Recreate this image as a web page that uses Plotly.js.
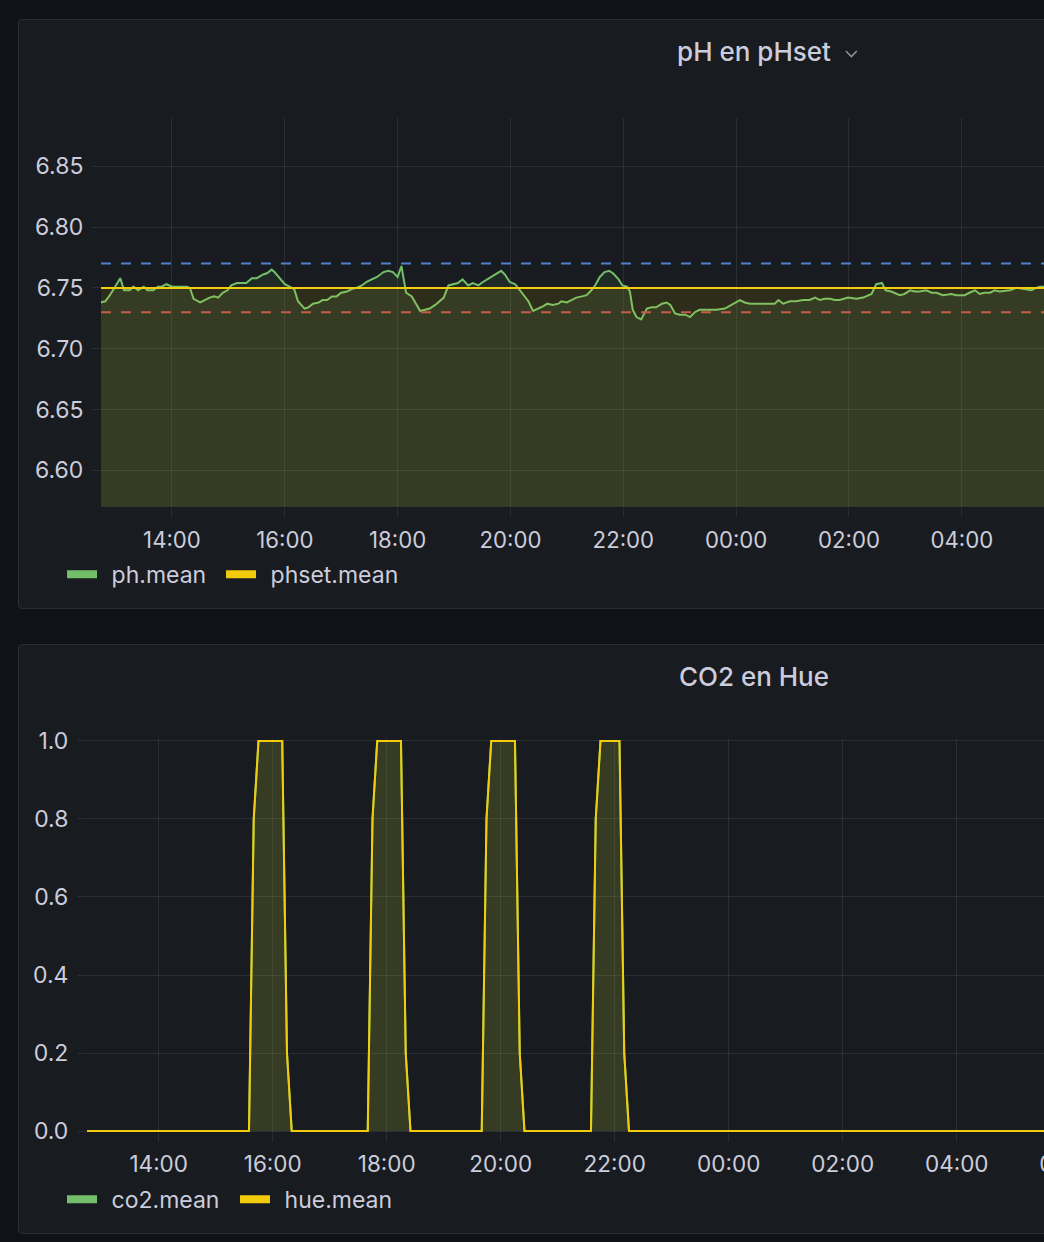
<!DOCTYPE html>
<html>
<head>
<meta charset="utf-8">
<script src="https://cdn.plot.ly/plotly-3.0.1.min.js"></script>
<style>
  html, body { margin:0; padding:0; background:#111217; width:1044px; height:1242px; overflow:hidden; }
  .panel { position:absolute; left:18px; width:1472px; height:590px; box-sizing:border-box;
           background:#181b1f; border:1px solid #2b2e34; border-radius:4px; }
  .plot { position:absolute; left:18px; width:1472px; height:590px; }
</style>
</head>
<body>
<div class="panel" style="top:19px"></div>
<div class="panel" style="top:644px"></div>
<div id="ph" class="plot" style="top:19px"></div>
<div id="co2" class="plot" style="top:644px"></div>
<script>
// ---- data ----
const day1 = '2023-05-10', day2 = '2023-05-11';
const rangeStart = '2023-05-10 12:44:30', rangeEnd = '2023-05-11 12:44:30';

const phTimes = ['12:44','12:49','12:54','12:59','13:05','13:09','13:15','13:19','13:24','13:30','13:34','13:40','13:45','13:49','13:54','14:00','14:05','14:10','14:16','14:19','14:23','14:30','14:35','14:40','14:45','14:49','14:54','14:59','15:03','15:09','15:19','15:25','15:30','15:37','15:41','15:46','15:49','15:55','16:00','16:05','16:10','16:14','16:21','16:25','16:30','16:36','16:40','16:45','16:50','16:55','17:00','17:06','17:11','17:16','17:22','17:27','17:32','17:38','17:45','17:50','17:55','18:00','18:04','18:09','18:15','18:20','18:24','18:29','18:34','18:40','18:45','18:49','18:54','19:01','19:04','19:09','19:15','19:20','19:26','19:29','19:35','19:42','19:50','19:54','19:59','20:05','20:10','20:15','20:19','20:24','20:30','20:35','20:39','20:45','20:51','20:54','21:00','21:05','21:10','21:16','21:21','21:26','21:30','21:35','21:40','21:45','21:49','21:55','21:59','22:04','22:07','22:10','22:14','22:19','22:25','22:30','22:35','22:41','22:46','22:50','22:55','23:00','23:06','23:11','23:16','23:21','23:29','23:39','23:48','23:53','23:59','00:04','00:09','00:15','00:25','00:36','00:41','00:45','00:50','00:57','01:04','01:11','01:18','01:24','01:29','01:34','01:40','01:45','01:50','01:59','02:08','02:15','02:24','02:29','02:35','02:39','02:45','02:54','02:59','03:05','03:10','03:15','03:22','03:28','03:33','03:40','03:49','03:54','04:03','04:08','04:14','04:19','04:24','04:30','04:35','04:40','04:51','04:58','05:05','05:14','05:19','05:23','05:28'];
const phValues = [6.738,6.739,6.744,6.750,6.758,6.748,6.748,6.751,6.748,6.751,6.748,6.748,6.751,6.751,6.753,6.751,6.751,6.751,6.751,6.750,6.741,6.738,6.740,6.742,6.743,6.742,6.746,6.748,6.752,6.754,6.754,6.758,6.758,6.761,6.762,6.765,6.763,6.758,6.753,6.751,6.749,6.739,6.733,6.734,6.737,6.738,6.740,6.740,6.743,6.743,6.746,6.747,6.749,6.750,6.752,6.755,6.757,6.759,6.763,6.764,6.763,6.759,6.768,6.746,6.743,6.736,6.731,6.732,6.733,6.736,6.739,6.742,6.752,6.753,6.754,6.757,6.752,6.754,6.752,6.754,6.757,6.760,6.764,6.761,6.755,6.753,6.748,6.743,6.739,6.731,6.733,6.735,6.737,6.736,6.737,6.739,6.738,6.740,6.742,6.743,6.744,6.748,6.752,6.759,6.763,6.764,6.762,6.757,6.752,6.751,6.747,6.732,6.726,6.724,6.733,6.734,6.734,6.737,6.738,6.736,6.729,6.728,6.728,6.726,6.730,6.732,6.732,6.732,6.733,6.735,6.738,6.740,6.738,6.737,6.737,6.737,6.737,6.740,6.737,6.739,6.739,6.740,6.740,6.742,6.740,6.741,6.741,6.740,6.740,6.742,6.741,6.742,6.745,6.753,6.754,6.748,6.747,6.744,6.745,6.748,6.747,6.747,6.748,6.746,6.746,6.744,6.745,6.744,6.744,6.746,6.748,6.745,6.746,6.746,6.748,6.747,6.748,6.750,6.749,6.748,6.750,6.751,6.751];
const phsetTimes = ['12:44','05:40'];
const phsetValues = [6.75, 6.75];
const thresholdValues = [6.77, 6.73];
const thresholdColors = ['rgb(78,128,204)', 'rgb(196,92,74)'];

const hueTimes = ['12:44','15:35','15:40','15:45','16:10','16:15','16:20','17:40','17:45','17:50','18:15','18:20','18:25','19:40','19:45','19:50','20:15','20:20','20:25','21:35','21:40','21:45','22:05','22:10','22:15','06:00'];
const hueValues = [0,0,0.8,1,1,0.2,0,0,0.8,1,1,0.2,0,0,0.8,1,1,0.2,0,0,0.8,1,1,0.2,0,0];
const co2Times = hueTimes.slice();
const co2Values = hueValues.slice();

const phTitle = 'pH en pHset', co2Title = 'CO2 en Hue';
const phNames = ['ph.mean', 'phset.mean'], co2Names = ['co2.mean', 'hue.mean'];
const yTicksPh = {tick0: 6.60, dtick: 0.05}, yTicksCo2 = {tick0: 0, dtick: 0.2};

// ---- styling ----
const GREEN = '#73BF69', YELLOW = '#F2CC0C', TEXT = '#ccccdc';
const GRID = 'rgba(204,204,220,0.11)';
const FONT = 'Inter, "Noto Sans", sans-serif';
const LPAD = '\u2005\u2006';
function stamp(hm) { return (parseInt(hm.slice(0,2),10) < 12 ? day2 : day1) + ' ' + hm; }

function xaxis(standoff, fsize) {
  return { type:'date', range:[rangeStart, rangeEnd], tick0: day1 + ' 00:00', dtick: 7200000,
    tickformat:'%H:%M', showgrid:true, gridcolor:GRID, gridwidth:1, zeroline:false, showline:false,
    ticks:'outside', ticklen:8, tickcolor:GRID, tickfont:{family:FONT, size:fsize, color:TEXT},
    ticklabelstandoff: standoff, fixedrange:true };
}
function yaxis(range, t, fmt, standoff) {
  return { range:range, tick0:t.tick0, dtick:t.dtick, tickformat:fmt, showgrid:true, gridcolor:GRID,
    zeroline:false, showline:false, ticks:'outside', ticklen:8, tickcolor:GRID,
    tickfont:{family:FONT, size:23, color:TEXT}, ticklabelstandoff: standoff, fixedrange:true };
}
function legendDummy(name, color, lw) {
  const t = { x:[null], y:[null], type:'scatter', mode:'lines', name:LPAD + name,
    line:{color:color, width:8}, hoverinfo:'skip' };
  if (lw) t.legendwidth = lw;
  return t;
}
function baseLayout(title) {
  return {
    width:1472, height:590, autosize:false,
    paper_bgcolor:'rgba(0,0,0,0)', plot_bgcolor:'rgba(0,0,0,0)',
    font:{family:FONT, color:TEXT},
    title:{text:title, x:0.5, xref:'container', xanchor:'center', y:0.944, yref:'container', yanchor:'middle',
      font:{family:FONT, size:26, weight:500, color:TEXT}},
    showlegend:true,
    legend:{orientation:'h', x:0.0299, xref:'container', xanchor:'left', y:0.059, yref:'container', yanchor:'middle',
      font:{family:FONT, size:23, color:TEXT}, itemwidth:30, bgcolor:'rgba(0,0,0,0)',
      itemclick:false, itemdoubleclick:false},
    hovermode:false
  };
}

// ---- pH panel ----
const phTraces = [
  { x:phTimes.map(stamp), y:phValues, type:'scatter', mode:'lines', line:{color:GREEN, width:2},
    fill:'tozeroy', fillcolor:'rgba(115,191,105,0.10)', showlegend:false },
  { x:phsetTimes.map(stamp), y:phsetValues, type:'scatter', mode:'lines', line:{color:YELLOW, width:2},
    fill:'tozeroy', fillcolor:'rgba(242,204,12,0.10)', showlegend:false },
  legendDummy(phNames[0], GREEN, 114), legendDummy(phNames[1], YELLOW)
];
const phLayout = baseLayout(phTitle);
phLayout.margin = {l:83, r:35, t:99, b:102, pad:0};
phLayout.xaxis = xaxis(5, 22.2);
phLayout.yaxis = yaxis([6.5698, 6.8897], yTicksPh, '.2f', 4);
phLayout.shapes = thresholdValues.map((v, i) => ({
  type:'line', xref:'paper', x0:0, x1:1, yref:'y', y0:v, y1:v, layer:'above',
  line:{color:thresholdColors[i], width:2, dash:'10px,10px'} }));
phLayout.shapes.push({ type:'path', xref:'paper', yref:'paper', layer:'above',
  path:'M0.5501,1.1722 L0.5542,1.1581 L0.5582,1.1722', line:{color:'rgba(204,204,220,0.65)', width:1.6} });

Plotly.newPlot('ph', phTraces, phLayout, {displayModeBar:false, staticPlot:true});

// ---- CO2 panel ----
const co2Traces = [
  { x:co2Times.map(stamp), y:co2Values, type:'scatter', mode:'lines', line:{color:GREEN, width:2},
    fill:'tozeroy', fillcolor:'rgba(115,191,105,0.10)', showlegend:false },
  { x:hueTimes.map(stamp), y:hueValues, type:'scatter', mode:'lines', line:{color:YELLOW, width:2},
    fill:'tozeroy', fillcolor:'rgba(242,204,12,0.10)', showlegend:false },
  legendDummy(co2Names[0], GREEN, 128), legendDummy(co2Names[1], YELLOW)
];
const co2Layout = baseLayout(co2Title);
co2Layout.margin = {l:69, r:35, t:95, b:101, pad:0};
co2Layout.xaxis = xaxis(3, 22.5);
co2Layout.yaxis = yaxis([-0.005, 1.005], yTicksCo2, '.1f', 5);

Plotly.newPlot('co2', co2Traces, co2Layout, {displayModeBar:false, staticPlot:true});
</script>
</body>
</html>
